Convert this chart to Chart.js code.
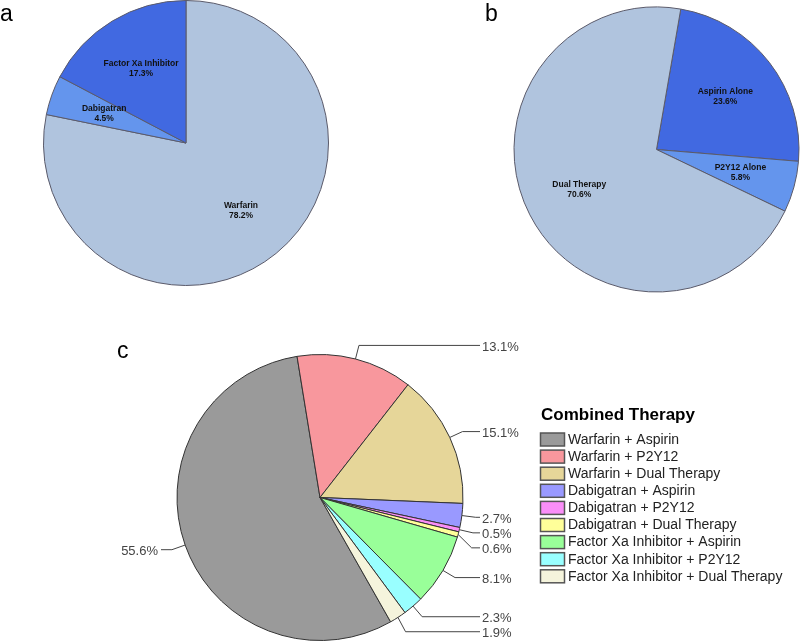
<!DOCTYPE html>
<html>
<head>
<meta charset="utf-8">
<script src="https://cdn.jsdelivr.net/npm/chart.js@4/dist/chart.umd.min.js"></script>
<style>
  body { margin: 0; background: #fff; }
  #wrap { position: relative; width: 800px; height: 642px; overflow: hidden; font-family: "Liberation Sans", Arial, sans-serif; }
  canvas { position: absolute; }
  .tag { position: absolute; font-size: 23px; color: #000; line-height: 1; }
</style>
</head>
<body>
<div id="wrap">
  <canvas id="chartA" width="400" height="300" style="left:0;top:0"></canvas>
  <canvas id="chartB" width="400" height="300" style="left:400px;top:0"></canvas>
  <canvas id="chartC" width="800" height="322" style="left:0;top:320px"></canvas>
  <div class="tag" style="left:0;top:2px">a</div>
  <div class="tag" style="left:485px;top:2px">b</div>
  <div class="tag" style="left:117px;top:339px">c</div>
</div>
<script>
// panel a - anticoagulant
const anticoagLabels = ["Warfarin", "Dabigatran", "Factor Xa Inhibitor"];
const anticoagValues = [78.2, 4.5, 17.3];
const anticoagColors = ["#B0C4DE", "#6495ED", "#4169E1"];

// panel b - antiplatelet
const antiplateletLabels = ["Aspirin Alone", "P2Y12 Alone", "Dual Therapy"];
const antiplateletValues = [23.6, 5.8, 70.6];
const antiplateletColors = ["#4169E1", "#6495ED", "#B0C4DE"];

// panel c - combined therapy
const combinedLabels = [
  "Warfarin + Aspirin", "Warfarin + P2Y12", "Warfarin + Dual Therapy",
  "Dabigatran + Aspirin", "Dabigatran + P2Y12", "Dabigatran + Dual Therapy",
  "Factor Xa Inhibitor + Aspirin", "Factor Xa Inhibitor + P2Y12", "Factor Xa Inhibitor + Dual Therapy"
];
const combinedValues = [55.6, 13.1, 15.1, 2.7, 0.5, 0.6, 8.1, 2.3, 1.9];
const combinedColors = ["#9A9A9A", "#F8979D", "#E6D699", "#9999FF", "#FA8EF8", "#FFFF99", "#99FF99", "#99FFFF", "#F5F4DC"];

const FONT = "'Liberation Sans', Arial, sans-serif";

// two-line labels drawn inside the slices
const insideLabels = {
  id: 'insideLabels',
  afterDatasetsDraw(chart) {
    const ctx = chart.ctx;
    const meta = chart.getDatasetMeta(0);
    const vals = chart.data.datasets[0].data;
    ctx.save();
    ctx.font = "bold 8.5px " + FONT;
    ctx.fillStyle = "#111";
    ctx.textAlign = "center";
    ctx.textBaseline = "middle";
    meta.data.forEach((arc, i) => {
      const p = arc.getProps(['x', 'y', 'startAngle', 'endAngle', 'outerRadius']);
      const a = (p.startAngle + p.endAngle) / 2;
      const d = p.outerRadius * 0.61;
      const x = p.x + Math.cos(a) * d, y = p.y + Math.sin(a) * d;
      ctx.fillText(chart.data.labels[i], x, y - 5);
      ctx.fillText(vals[i].toFixed(1) + "%", x, y + 5);
    });
    ctx.restore();
  }
};

// percentage labels with leader lines, outside the pie
const outsideLabels = {
  id: 'outsideLabels',
  afterDatasetsDraw(chart) {
    const ctx = chart.ctx;
    const meta = chart.getDatasetMeta(0);
    const vals = chart.data.datasets[0].data;
    const items = meta.data.map((arc, i) => {
      const p = arc.getProps(['x', 'y', 'startAngle', 'endAngle', 'outerRadius']);
      const a = (p.startAngle + p.endAngle) / 2;
      const r = p.outerRadius;
      return {
        i, cx: p.x, r,
        x0: p.x + Math.cos(a) * r, y0: p.y + Math.sin(a) * r,
        x1: p.x + Math.cos(a) * (r + 14), y1: p.y + Math.sin(a) * (r + 14),
        right: Math.cos(a) >= 0
      };
    });
    // push overlapping labels apart on each side
    [true, false].forEach(side => {
      const group = items.filter(o => o.right === side).sort((a, b) => a.y1 - b.y1);
      let last = -1e9;
      group.forEach(o => {
        o.ly = Math.max(o.y1, last + 15);
        last = o.ly;
      });
    });
    ctx.save();
    ctx.strokeStyle = "#444";
    ctx.lineWidth = 1;
    ctx.fillStyle = "#444";
    ctx.font = "13px " + FONT;
    ctx.textBaseline = "middle";
    items.forEach(o => {
      const endX = o.right ? o.cx + o.r + 17 : o.cx - o.r - 16;
      ctx.beginPath();
      ctx.moveTo(o.x0, o.y0);
      ctx.lineTo(o.x1, o.ly);
      ctx.lineTo(endX, o.ly);
      ctx.stroke();
      ctx.textAlign = o.right ? "left" : "right";
      ctx.fillText(vals[o.i].toFixed(1) + "%", o.right ? endX + 2 : endX - 3, o.ly + 2);
    });
    ctx.restore();
  }
};

// legend box for panel c
const combinedLegend = {
  id: 'combinedLegend',
  afterDraw(chart) {
    const ctx = chart.ctx;
    const colors = chart.data.datasets[0].backgroundColor;
    ctx.save();
    ctx.fillStyle = "#000";
    ctx.font = "bold 17px " + FONT;
    ctx.textBaseline = "middle";
    ctx.textAlign = "left";
    ctx.fillText("Combined Therapy", 541, 95);
    ctx.font = "14px " + FONT;
    chart.data.labels.forEach((lab, i) => {
      const y = 113 + i * 17.1;
      ctx.fillStyle = colors[i];
      ctx.fillRect(540.5, y, 24, 13);
      ctx.strokeStyle = "#555";
      ctx.lineWidth = 1.5;
      ctx.strokeRect(540.5, y, 24, 13);
      ctx.fillStyle = "#222";
      ctx.fillText(lab, 568, y + 7);
    });
    ctx.restore();
  }
};

function pie(id, labels, values, colors, rotation, padding, border, plugins) {
  return new Chart(document.getElementById(id), {
    type: 'pie',
    data: {
      labels: labels,
      datasets: [{
        data: values,
        backgroundColor: colors,
        borderColor: border,
        borderWidth: 1
      }]
    },
    options: {
      responsive: false,
      animation: false,
      rotation: rotation,
      layout: { padding: padding },
      plugins: { legend: { display: false }, tooltip: { enabled: false } }
    },
    plugins: plugins
  });
}

pie('chartA', anticoagLabels, anticoagValues, anticoagColors, 0,
  { left: 43, top: 0, right: 71, bottom: 14 }, "#5a5a6a", [insideLabels]);
pie('chartB', antiplateletLabels, antiplateletValues, antiplateletColors, 9.8,
  { left: 113.5, top: 6.5, right: 0.5, bottom: 7.5 }, "#5a5a6a", [insideLabels]);
pie('chartC', combinedLabels, combinedValues, combinedColors, 150.4,
  { left: 176.5, top: 34, right: 336.5, bottom: 1 }, "#333", [outsideLabels, combinedLegend]);
</script>
</body>
</html>
